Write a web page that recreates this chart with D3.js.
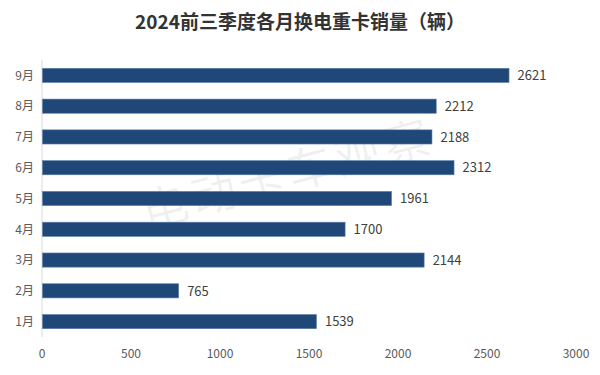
<!DOCTYPE html>
<html><head><meta charset="utf-8">
<script src="https://cdn.jsdelivr.net/npm/d3@7"></script>
<style>body{margin:0;background:#fff}svg{display:block}</style>
</head><body><svg id="c" width="600" height="375"></svg>
<script>
const categories = ["9月","8月","7月","6月","5月","4月","3月","2月","1月"];
const values = [2621,2212,2188,2312,1961,1700,2144,765,1539];
const xTicks = [0,500,1000,1500,2000,2500,3000];
const title = "2024前三季度各月换电重卡销量（辆）";
const watermark = "电动卡车观察";

const svg = d3.select("#c");
const font = "'Noto Sans CJK SC','Noto Sans',sans-serif";
const x = d3.scaleLinear().domain([0,3000]).range([42,576]);
const y = d3.scaleBand().domain(categories).range([60,337]).paddingInner(0.54).paddingOuter(0.27);

svg.append("rect").attr("width",600).attr("height",375).attr("fill","#fff");

svg.append("text").attr("x",300).attr("y",29).attr("text-anchor","middle")
  .attr("font-family",font).attr("font-weight","bold").attr("font-size",19)
  .attr("fill","#333").text(title);

// watermark
svg.append("text").attr("transform","translate(292,190) rotate(-15)")
  .attr("text-anchor","middle").attr("font-family",font).attr("font-size",46)
  .attr("fill","#000").attr("fill-opacity",0.06).attr("letter-spacing",4).text(watermark);

// axis line
svg.append("line").attr("x1",x(0)).attr("x2",x(0)).attr("y1",60).attr("y2",337)
  .attr("stroke","#d9d9d9").attr("stroke-width",1);

const data = categories.map((c,i)=>({c,v:values[i]}));
svg.selectAll("rect.bar").data(data).join("rect").attr("class","bar")
  .attr("x",x(0)+0.5).attr("y",d=>y(d.c)).attr("width",d=>x(d.v)-x(0))
  .attr("height",y.bandwidth()).attr("fill","#1f4778").attr("stroke","#5b7fa8").attr("stroke-width",0.6);

svg.selectAll("text.val").data(data).join("text").attr("class","val")
  .attr("x",d=>x(d.v)+9).attr("y",d=>y(d.c)+y.bandwidth()/2).attr("dy","0.36em")
  .attr("font-family",font).attr("font-size",13).attr("fill","#404040").text(d=>d.v);

svg.selectAll("text.cat").data(data).join("text").attr("class","cat")
  .attr("x",34).attr("y",d=>y(d.c)+y.bandwidth()/2).attr("dy","0.36em").attr("text-anchor","end")
  .attr("font-family",font).attr("font-size",12).attr("fill","#595959").text(d=>d.c);

svg.selectAll("text.xt").data(xTicks).join("text").attr("class","xt")
  .attr("x",d=>x(d)).attr("y",354).attr("dy","0.36em").attr("text-anchor","middle")
  .attr("font-family",font).attr("font-size",12).attr("fill","#595959").text(d=>d);
</script></body></html>
